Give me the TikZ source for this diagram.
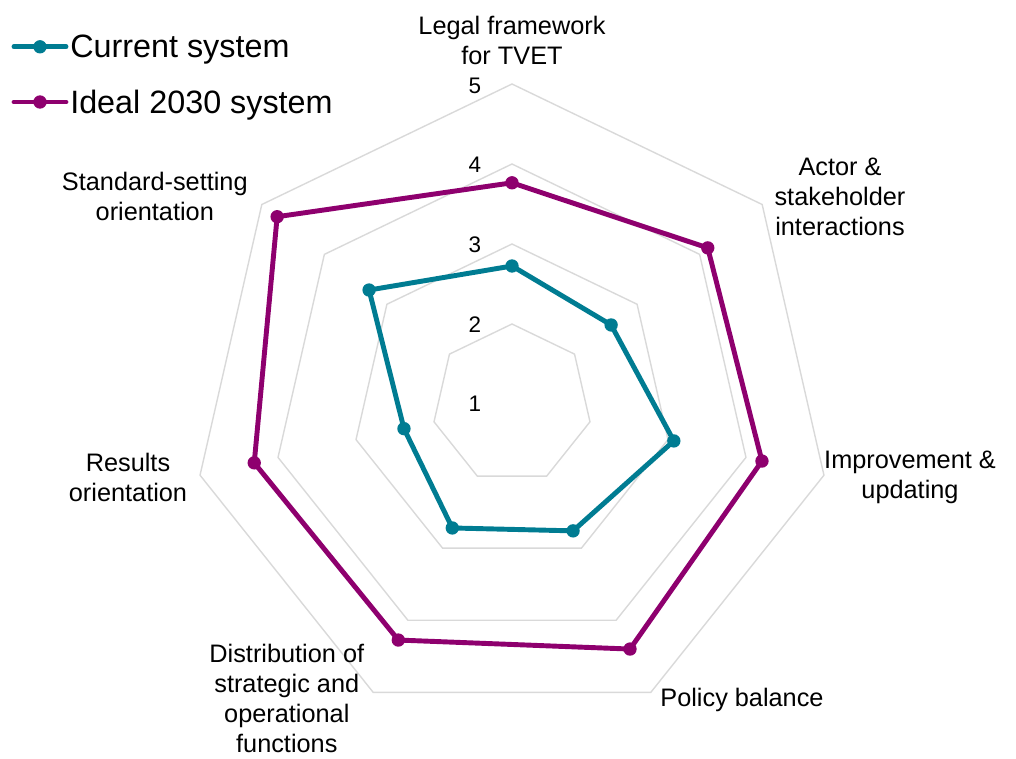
\documentclass[tikz,border=0pt]{standalone}
\usepackage{fontspec}
\setmainfont{Liberation Sans}
\usetikzlibrary{positioning}

\definecolor{current}{RGB}{0,124,146}
\definecolor{ideal}{RGB}{142,0,110}
\definecolor{gridgray}{RGB}{217,217,217}

\begin{document}
\begin{tikzpicture}[
    grid/.style={
        draw=gridgray,
        line width=1pt
    },
    series/.style={
        line width=3.5pt,
        line join=round
    },
    dot/.style={
        circle,
        inner sep=0pt,
        minimum size=9.5pt
    },
    axislabel/.style={
        align=center,
        font=\fontsize{18}{21.3}\selectfont
    },
    level/.style={
        font=\fontsize{16}{19}\selectfont
    },
    legend/.style={
        anchor=west,
        inner sep=0pt,
        font=\fontsize{23}{27}\selectfont
    }
]

\useasboundingbox (-12.8,-8.85) rectangle (12.6,10.1);

% Grid rings (levels 2 to 5)
\draw[grid] (90:2) -- (38.571:2) -- (-12.857:2) -- (-64.286:2) -- (-115.714:2) -- (-167.143:2) -- (141.429:2) -- cycle;
\draw[grid] (90:4) -- (38.571:4) -- (-12.857:4) -- (-64.286:4) -- (-115.714:4) -- (-167.143:4) -- (141.429:4) -- cycle;
\draw[grid] (90:6) -- (38.571:6) -- (-12.857:6) -- (-64.286:6) -- (-115.714:6) -- (-167.143:6) -- (141.429:6) -- cycle;
\draw[grid] (90:8) -- (38.571:8) -- (-12.857:8) -- (-64.286:8) -- (-115.714:8) -- (-167.143:8) -- (141.429:8) -- cycle;

% Scale values
\node[level] (lv1) at (-0.93,0) {1};
\node[level] (lv2) at (-0.93,1.98) {2};
\node[level] (lv3) at (-0.93,3.98) {3};
\node[level] (lv4) at (-0.93,5.98) {4};
\node[level] (lv5) at (-0.93,7.95) {5};

% Current system
\node[dot, fill=current] (cur1) at (90:3.45) {};
\node[dot, fill=current] (cur2) at (38.571:3.17) {};
\node[dot, fill=current] (cur3) at (-12.857:4.15) {};
\node[dot, fill=current] (cur4) at (-64.286:3.52) {};
\node[dot, fill=current] (cur5) at (-115.714:3.44) {};
\node[dot, fill=current] (cur6) at (-167.143:2.77) {};
\node[dot, fill=current] (cur7) at (141.429:4.57) {};
\draw[series, current] (cur1.center) -- (cur2.center) -- (cur3.center) -- (cur4.center)
    -- (cur5.center) -- (cur6.center) -- (cur7.center) -- cycle;

% Ideal 2030 system
\node[dot, fill=ideal] (ide1) at (90:5.53) {};
\node[dot, fill=ideal] (ide2) at (38.571:6.26) {};
\node[dot, fill=ideal] (ide3) at (-12.857:6.41) {};
\node[dot, fill=ideal] (ide4) at (-64.286:6.80) {};
\node[dot, fill=ideal] (ide5) at (-115.714:6.55) {};
\node[dot, fill=ideal] (ide6) at (-167.143:6.61) {};
\node[dot, fill=ideal] (ide7) at (141.429:7.51) {};
\draw[series, ideal] (ide1.center) -- (ide2.center) -- (ide3.center) -- (ide4.center)
    -- (ide5.center) -- (ide6.center) -- (ide7.center) -- cycle;

% Axis labels
\node[axislabel] (legal) at (0,9.1) {Legal framework\\for TVET};
\node[axislabel] (actor) at (8.2,5.18) {Actor \&\\stakeholder\\interactions};
\node[axislabel] (improve) at (9.95,-1.83) {Improvement \&\\updating};
\node[axislabel] (policy) at (5.75,-7.4) {Policy balance};
\node[axislabel] (distrib) at (-5.63,-7.36) {Distribution of\\strategic and\\operational\\functions};
\node[axislabel] (results) at (-9.6,-1.83) {Results\\orientation};
\node[axislabel] (standard) at (-8.93,5.18) {Standard-setting\\orientation};

% Legend
\node[dot, fill=current] (keycur) at (-11.8,8.93) {};
\draw[series, current, line cap=round] ([xshift=-0.65cm]keycur.center) -- ([xshift=0.65cm]keycur.center);
\node[legend] (txtcur) at (-11.05,8.86) {Current system};
\node[dot, fill=ideal] (keyide) at (-11.8,7.55) {};
\draw[series, ideal, line cap=round] ([xshift=-0.65cm]keyide.center) -- ([xshift=0.65cm]keyide.center);
\node[legend] (txtide) at (-11.05,7.48) {Ideal 2030 system};

\end{tikzpicture}
\end{document}
